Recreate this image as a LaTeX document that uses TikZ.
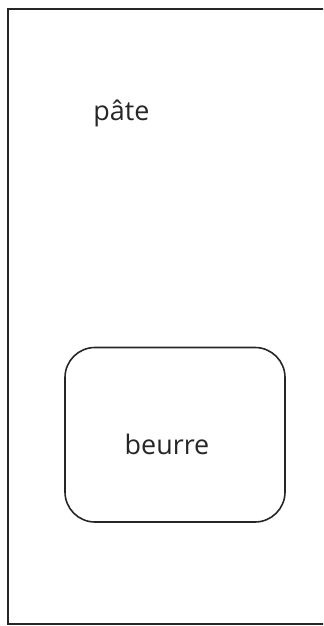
\documentclass[tikz,border=0pt]{standalone}
\usepackage{fontspec}
\setmainfont{Open Sans}
\begin{document}
\begin{tikzpicture}[x=1bp,y=-1bp,
  outer/.style={draw=black!85,line width=2bp},
  box/.style={draw=black!85,line width=1.6bp,rounded corners=30bp},
  lbl/.style={font=\fontsize{27}{32}\selectfont,text=black!85,anchor=base,inner sep=0pt}]
\useasboundingbox (0,0) rectangle (323,626);
\clip (0,0) rectangle (323,626);
\draw[outer] (8,9) rectangle (340,623.5);
\draw[box] (65,347.5) rectangle (285,522);
\node[lbl] (pate) at (121.5,121) {pâte};
\node[lbl] (beurre) at (167,454) {beurre};
\end{tikzpicture}
\end{document}
